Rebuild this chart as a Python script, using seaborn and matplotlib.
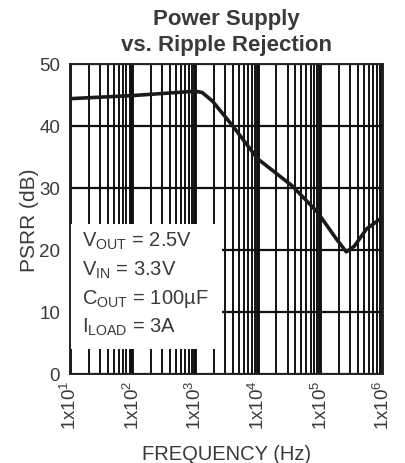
import numpy as np
import pandas as pd
import matplotlib
matplotlib.use("Agg")
import matplotlib.pyplot as plt
import seaborn as sns
from matplotlib.patches import Rectangle
from matplotlib.ticker import FixedLocator, NullFormatter

# Data
freq = [10, 100, 1000, 1300, 1900, 4000, 10000, 36000, 90000, 180000, 260000, 350000, 550000, 1000000]
psrr = [44.4, 44.9, 45.6, 45.4, 44.0, 40.0, 34.7, 30.3, 26.1, 21.8, 19.7, 20.6, 23.4, 25.3]
decades = [1e1, 1e2, 1e3, 1e4, 1e5, 1e6]
decade_labels = [r"1x10$^{%d}$" % i for i in range(1, 7)]
y_ticks = [0, 10, 20, 30, 40, 50]
conditions = [r"V$_{\rm OUT}$ = 2.5V", r"V$_{\rm IN}$ = 3.3V",
              r"C$_{\rm OUT}$ = 100µF", r"I$_{\rm LOAD}$ = 3A"]

data = pd.DataFrame({"freq": freq, "psrr": psrr})

sns.set_style("white")
plt.rcParams["font.family"] = ["Liberation Sans", "DejaVu Sans"]
plt.rcParams["mathtext.fontset"] = "custom"
plt.rcParams["mathtext.rm"] = "Liberation Sans"
text_color = "#3a3a3a"

fig = plt.figure(figsize=(4.06, 4.64), dpi=100)
ax = fig.add_axes([0.172, 0.192, 0.771, 0.668])

sns.lineplot(data=data, x="freq", y="psrr", color="#1a1a1a", linewidth=2.6, ax=ax, zorder=3)
ax.set_xscale("log")
ax.set_xlim(1e1, 1e6)
ax.set_ylim(0, 50)

# Grid: minor verticals, heavier decade lines, horizontals every 10 dB
minor = [m * d for d in decades[:-1] for m in range(2, 10)]
ax.xaxis.set_major_locator(FixedLocator(decades))
ax.xaxis.set_minor_locator(FixedLocator(minor))
ax.xaxis.set_minor_formatter(NullFormatter())
ax.set_xticklabels(decade_labels, rotation=90, fontsize=13.5, color=text_color)
ax.grid(which="minor", axis="x", color="#111111", linewidth=1.4)
ax.grid(which="major", axis="x", color="#111111", linewidth=2.8)
ax.grid(which="major", axis="y", color="#111111", linewidth=1.6)
ax.set_axisbelow(True)

ax.set_yticks(y_ticks)
ax.set_yticklabels([str(v) for v in y_ticks], fontsize=13.5, color=text_color)
ax.tick_params(axis="y", which="major", direction="out", length=4, width=1.2, color="#222222", pad=3)
ax.tick_params(axis="x", which="both", length=0, pad=4)

for spine in ax.spines.values():
    spine.set_color("#222222")
    spine.set_linewidth(1.4)
    spine.set_visible(True)

# White box holding the test conditions
ax.add_patch(Rectangle((0, 0.08), 0.486, 0.403, transform=ax.transAxes,
                       facecolor="white", edgecolor="none", zorder=1))
for i, label in enumerate(conditions):
    ax.text(0.04, 0.43 - i * 0.092, label, transform=ax.transAxes,
            ha="left", va="center", fontsize=14.5, color=text_color, zorder=4)

ax.set_xlabel("FREQUENCY (Hz)", fontsize=14.5, color=text_color, labelpad=11)
ax.set_ylabel("PSRR (dB)", fontsize=15, color=text_color, labelpad=0)
ax.set_title("Power Supply\nvs. Ripple Rejection", fontsize=16, fontweight="bold",
             color=text_color, pad=10, linespacing=1.3)

fig.savefig("out.png", dpi=100, facecolor="white")
